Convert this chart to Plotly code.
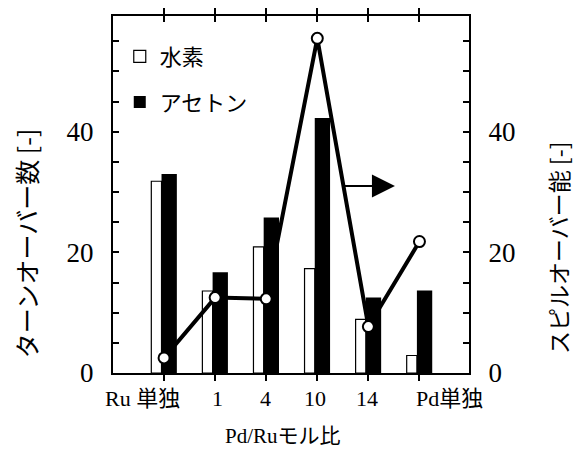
import plotly.graph_objects as go

# ---- data ----
categories = ["Ru 単独", "1", "4", "10", "14", "Pd単独"]
hydrogen_ton = [31.8, 13.6, 20.9, 17.3, 8.9, 2.9]      # 水素 (left axis)
acetone_ton = [33.0, 16.7, 25.8, 42.3, 12.5, 13.7]     # アセトン (left axis)
spillover = [2.5, 12.5, 12.3, 55.5, 7.7, 21.8]         # スピルオーバー能 (right axis)
y_tick_values = [0, 5, 10, 15, 20, 25, 30, 35, 40, 45, 50, 55]
y_labeled_ticks = [0, 20, 40]

x_title = "Pd/Ruモル比"
y_title_left = "ターンオーバー数 [-]"
y_title_right = "スピルオーバー能 [-]"

# ---- styling / layout ----
xpos = list(range(len(categories)))
y_tick_text = [str(v) if v in y_labeled_ticks else "" for v in y_tick_values]
label_xshift = [-22, 2, -1, -2, -1, 30]
SERIF = "Liberation Serif, Noto Sans CJK JP"
CJK = "Noto Sans CJK JP"
YMAX = 59.2

fig = go.Figure()
fig.add_trace(go.Bar(
    x=xpos, y=hydrogen_ton, name="水素", offset=-0.25, width=0.2,
    marker=dict(color="white", line=dict(color="black", width=1.2)),
    legendgroup="h", yaxis="y"))
fig.add_trace(go.Bar(
    x=xpos, y=acetone_ton, name="アセトン", offset=-0.05, width=0.30,
    marker=dict(color="black", line=dict(color="black", width=0)),
    legendgroup="a", yaxis="y"))
fig.add_trace(go.Scatter(
    x=xpos, y=spillover, mode="lines+markers", yaxis="y2", showlegend=False,
    line=dict(color="black", width=4),
    marker=dict(size=11, color="white", line=dict(color="black", width=2))))

axis_common = dict(showgrid=False, zeroline=False, showline=True,
                   linecolor="black", linewidth=2, ticks="inside",
                   ticklen=6, tickwidth=1.5, tickcolor="black")

annotations = []
for i, lab in enumerate(categories):
    annotations.append(dict(x=i, xref="x", y=0, yref="paper", text=lab,
                            showarrow=False, yanchor="middle", yshift=-25,
                            xshift=label_xshift[i],
                            font=dict(family=SERIF, size=22, color="black")))
annotations += [
    dict(x=0.4765, xref="paper", y=0, yref="paper", text=x_title,
         showarrow=False, yanchor="middle", yshift=-63,
         font=dict(family=SERIF, size=21, color="black")),
    dict(x=-0.244, xref="paper", y=0.3636, yref="paper", text=y_title_left,
         showarrow=False, textangle=-90, xanchor="center", yanchor="middle",
         font=dict(family=CJK, size=25, color="black")),
    dict(x=1.250, xref="paper", y=0.35, yref="paper", text=y_title_right,
         showarrow=False, textangle=-90, xanchor="center", yanchor="middle",
         font=dict(family=CJK, size=23, color="black")),
    # arrow pointing to the right axis for the spillover line
    dict(x=4.52, xref="x", y=31.0, yref="y2", text="", showarrow=True,
         ax=-52, ay=0, arrowhead=2, arrowsize=2.3, arrowwidth=2,
         arrowcolor="black"),
]

fig.update_layout(
    width=577, height=449,
    margin=dict(l=113, r=108, t=16, b=76),
    paper_bgcolor="white", plot_bgcolor="white",
    barmode="overlay",
    showlegend=True,
    legend=dict(x=0.019, y=0.945, xanchor="left", yanchor="top",
                bgcolor="rgba(0,0,0,0)", tracegroupgap=14,
                font=dict(family=CJK, size=22, color="black")),
    xaxis=dict(range=[-1.0, 5.97], tickvals=xpos, showticklabels=False,
               mirror="allticks", **axis_common),
    yaxis=dict(range=[0, YMAX], tickvals=y_tick_values, ticktext=y_tick_text,
               ticklabelstandoff=12,
               tickfont=dict(family=SERIF, size=27, color="black"),
               **axis_common),
    yaxis2=dict(range=[0, YMAX], tickvals=y_tick_values, ticktext=y_tick_text,
                overlaying="y", side="right", ticklabelstandoff=12,
                tickfont=dict(family=SERIF, size=27, color="black"),
                **axis_common),
    annotations=annotations,
)

fig.write_html("out.html")
